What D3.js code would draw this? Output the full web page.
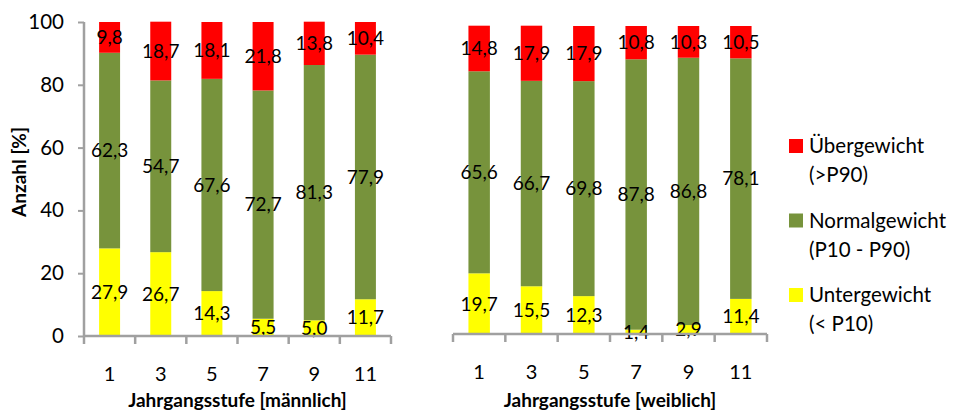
<!DOCTYPE html>
<html>
<head>
<meta charset="utf-8">
<script src="https://cdn.jsdelivr.net/npm/d3@7"></script>
<style>
  html, body { margin: 0; padding: 0; background: #fff; }
  svg { display: block; font-family: Lato, "Liberation Sans", sans-serif; }
</style>
</head>
<body>
<svg id="chart" width="956" height="412"></svg>
<script>
// Weight categories by school grade (Jahrgangsstufe), in percent
const grades = ["1", "3", "5", "7", "9", "11"];
const maleUnder   = [27.9, 26.7, 14.3, 5.5, 5.0, 11.7];
const maleNormal  = [62.3, 54.7, 67.6, 72.7, 81.3, 77.9];
const maleOver    = [9.8, 18.7, 18.1, 21.8, 13.8, 10.4];
const femaleUnder  = [19.7, 15.5, 12.3, 1.4, 2.9, 11.4];
const femaleNormal = [65.6, 66.7, 69.8, 87.8, 86.8, 78.1];
const femaleOver   = [14.8, 17.9, 17.9, 10.8, 10.3, 10.5];
const yTicks = [0, 20, 40, 60, 80, 100];

const seriesKeys = ["under", "normal", "over"];
const colors = { under: "#FFFF00", normal: "#77933C", over: "#FF0000" };
const legendItems = [
  { key: "over",   lines: ["Übergewicht", "(>P90)"] },
  { key: "normal", lines: ["Normalgewicht", "(P10 - P90)"] },
  { key: "under",  lines: ["Untergewicht", "(< P10)"] }
];

const svg = d3.select("#chart");
const axisColor = "#A0A0A0";
const fmt = v => v.toFixed(1).replace(".", ",");

function buildRows(under, normal, over) {
  return grades.map((g, i) => ({ grade: g, under: under[i], normal: normal[i], over: over[i] }));
}

function panel(rows, opts) {
  const x = d3.scaleBand().domain(grades).range([opts.x0, opts.x1])
    .paddingInner(0.59).paddingOuter(0.295);
  const y = d3.scaleLinear().domain([0, 100]).range([opts.y0, opts.y100]);
  const stacked = d3.stack().keys(seriesKeys)(rows);

  const g = svg.append("g");

  // stacked bars
  g.selectAll("g.series").data(stacked).join("g")
    .attr("fill", s => colors[s.key])
    .selectAll("rect").data(s => s).join("rect")
    .attr("x", d => x(d.data.grade))
    .attr("width", x.bandwidth())
    .attr("y", d => y(d[1]))
    .attr("height", d => y(d[0]) - y(d[1]));

  // value labels centred in each segment
  stacked.forEach(s => {
    g.selectAll(null).data(s).join("text")
      .attr("x", d => x(d.data.grade) + x.bandwidth() / 2)
      .attr("y", d => y((d[0] + d[1]) / 2))
      .attr("dy", "0.36em")
      .attr("text-anchor", "middle")
      .attr("font-size", 19)
      .attr("fill", "#000")
      .text(d => fmt(d.data[s.key]));
  });

  // x axis: category labels
  const xAxis = g.append("g").attr("transform", `translate(0,${opts.y0})`)
    .call(d3.axisBottom(x).tickSize(0).tickPadding(0));
  xAxis.select(".domain").remove();
  xAxis.selectAll("text").attr("font-size", 20).attr("fill", "#000")
    .attr("font-family", "Lato, sans-serif").attr("dy", "0").attr("y", 45);

  // baseline and boundary ticks
  g.append("line").attr("x1", opts.x0).attr("x2", opts.x1)
    .attr("y1", opts.y0).attr("y2", opts.y0)
    .attr("stroke", axisColor).attr("stroke-width", 2.5);
  const bounds = d3.range(grades.length + 1).map(i => opts.x0 + i * x.step());
  g.selectAll(null).data(bounds).join("line")
    .attr("x1", d => d).attr("x2", d => d)
    .attr("y1", opts.y0).attr("y2", opts.y0 + 8)
    .attr("stroke", axisColor).attr("stroke-width", 2.5);

  // axis title
  g.append("text")
    .attr("x", (opts.x0 + opts.x1) / 2).attr("y", 407)
    .attr("text-anchor", "middle").attr("font-size", 19).attr("font-weight", "bold")
    .text(opts.title);

  return { x, y };
}

// left panel (boys) with y axis
const left = panel(buildRows(maleUnder, maleNormal, maleOver),
  { x0: 84, x1: 391, y0: 336, y100: 22, title: "Jahrgangsstufe [männlich]" });

const yAxis = svg.append("g").attr("transform", "translate(84,0)")
  .call(d3.axisLeft(left.y).tickValues(yTicks).tickSize(6).tickPadding(14));
yAxis.select(".domain").attr("stroke", axisColor).attr("stroke-width", 2.5)
  .attr("d", `M0,${left.y(0)}V${left.y(100)}`);
yAxis.selectAll(".tick line").attr("stroke", axisColor).attr("stroke-width", 2);
yAxis.selectAll(".tick text").attr("font-size", 20.5).attr("fill", "#000")
  .attr("font-family", "Lato, sans-serif");

svg.append("text")
  .attr("transform", "translate(26,172) rotate(-90)")
  .attr("text-anchor", "middle").attr("font-size", 19).attr("font-weight", "bold")
  .text("Anzahl [%]");

// right panel (girls)
panel(buildRows(femaleUnder, femaleNormal, femaleOver),
  { x0: 453, x1: 767, y0: 334, y100: 26, title: "Jahrgangsstufe [weiblich]" });

// legend
const legend = svg.append("g");
legendItems.forEach((item, i) => {
  const top = 139 + i * 74.5;
  legend.append("rect").attr("x", 789).attr("y", top).attr("width", 14).attr("height", 14)
    .attr("fill", colors[item.key]);
  item.lines.forEach((line, j) => {
    legend.append("text").attr("x", 809).attr("y", top + 7 + j * 29)
      .attr("dy", "0.36em").attr("font-size", 20.5).attr("fill", "#000").text(line);
  });
});
</script>
</body>
</html>
